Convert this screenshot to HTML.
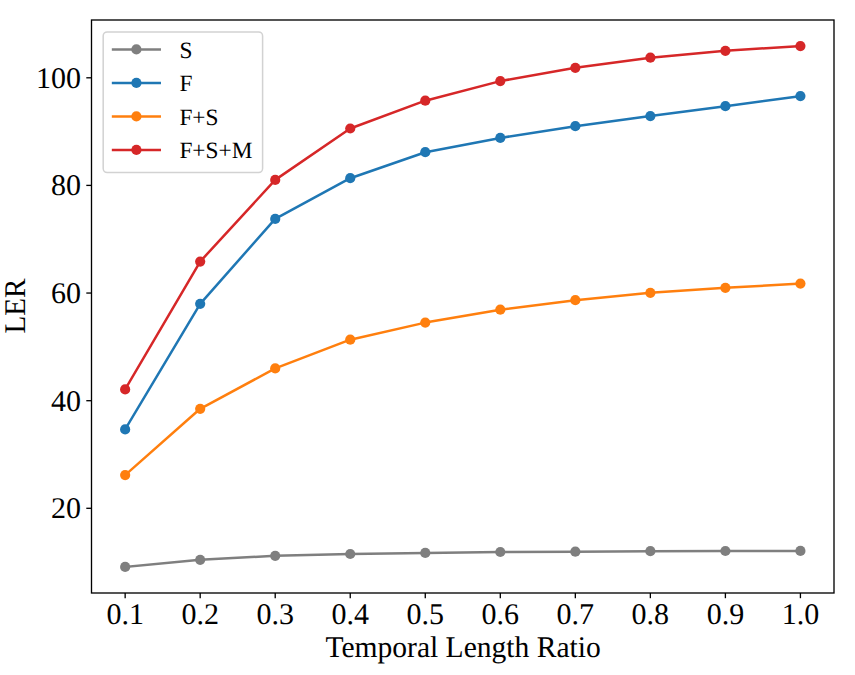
<!DOCTYPE html>
<html><head><meta charset="utf-8"><style>
html,body{margin:0;padding:0;background:#fff;width:855px;height:675px;overflow:hidden;}
svg{display:block;}
text{font-family:"Liberation Serif",serif;fill:#000;text-rendering:geometricPrecision;}
</style></head><body>
<svg width="855" height="675" viewBox="0 0 855 675">
<rect x="0" y="0" width="855" height="675" fill="#fff"/>
<polyline points="125.15,566.90 200.18,559.80 275.21,555.80 350.24,554.00 425.27,552.90 500.30,552.00 575.33,551.70 650.36,551.20 725.39,551.00 800.42,550.90" fill="none" stroke="#7f7f7f" stroke-width="2.5" stroke-linejoin="round" stroke-linecap="square"/>
<circle cx="125.15" cy="566.90" r="5.1" fill="#7f7f7f"/>
<circle cx="200.18" cy="559.80" r="5.1" fill="#7f7f7f"/>
<circle cx="275.21" cy="555.80" r="5.1" fill="#7f7f7f"/>
<circle cx="350.24" cy="554.00" r="5.1" fill="#7f7f7f"/>
<circle cx="425.27" cy="552.90" r="5.1" fill="#7f7f7f"/>
<circle cx="500.30" cy="552.00" r="5.1" fill="#7f7f7f"/>
<circle cx="575.33" cy="551.70" r="5.1" fill="#7f7f7f"/>
<circle cx="650.36" cy="551.20" r="5.1" fill="#7f7f7f"/>
<circle cx="725.39" cy="551.00" r="5.1" fill="#7f7f7f"/>
<circle cx="800.42" cy="550.90" r="5.1" fill="#7f7f7f"/>
<polyline points="125.15,429.40 200.18,303.80 275.21,218.90 350.24,178.20 425.27,152.20 500.30,137.90 575.33,126.20 650.36,116.10 725.39,106.20 800.42,96.10" fill="none" stroke="#1f77b4" stroke-width="2.5" stroke-linejoin="round" stroke-linecap="square"/>
<circle cx="125.15" cy="429.40" r="5.1" fill="#1f77b4"/>
<circle cx="200.18" cy="303.80" r="5.1" fill="#1f77b4"/>
<circle cx="275.21" cy="218.90" r="5.1" fill="#1f77b4"/>
<circle cx="350.24" cy="178.20" r="5.1" fill="#1f77b4"/>
<circle cx="425.27" cy="152.20" r="5.1" fill="#1f77b4"/>
<circle cx="500.30" cy="137.90" r="5.1" fill="#1f77b4"/>
<circle cx="575.33" cy="126.20" r="5.1" fill="#1f77b4"/>
<circle cx="650.36" cy="116.10" r="5.1" fill="#1f77b4"/>
<circle cx="725.39" cy="106.20" r="5.1" fill="#1f77b4"/>
<circle cx="800.42" cy="96.10" r="5.1" fill="#1f77b4"/>
<polyline points="125.15,475.10 200.18,408.80 275.21,368.40 350.24,339.70 425.27,322.60 500.30,309.70 575.33,300.20 650.36,292.80 725.39,287.80 800.42,283.60" fill="none" stroke="#ff7f0e" stroke-width="2.5" stroke-linejoin="round" stroke-linecap="square"/>
<circle cx="125.15" cy="475.10" r="5.1" fill="#ff7f0e"/>
<circle cx="200.18" cy="408.80" r="5.1" fill="#ff7f0e"/>
<circle cx="275.21" cy="368.40" r="5.1" fill="#ff7f0e"/>
<circle cx="350.24" cy="339.70" r="5.1" fill="#ff7f0e"/>
<circle cx="425.27" cy="322.60" r="5.1" fill="#ff7f0e"/>
<circle cx="500.30" cy="309.70" r="5.1" fill="#ff7f0e"/>
<circle cx="575.33" cy="300.20" r="5.1" fill="#ff7f0e"/>
<circle cx="650.36" cy="292.80" r="5.1" fill="#ff7f0e"/>
<circle cx="725.39" cy="287.80" r="5.1" fill="#ff7f0e"/>
<circle cx="800.42" cy="283.60" r="5.1" fill="#ff7f0e"/>
<polyline points="125.15,389.40 200.18,261.55 275.21,179.90 350.24,128.50 425.27,100.70 500.30,81.10 575.33,67.80 650.36,57.70 725.39,50.80 800.42,46.07" fill="none" stroke="#d62728" stroke-width="2.5" stroke-linejoin="round" stroke-linecap="square"/>
<circle cx="125.15" cy="389.40" r="5.1" fill="#d62728"/>
<circle cx="200.18" cy="261.55" r="5.1" fill="#d62728"/>
<circle cx="275.21" cy="179.90" r="5.1" fill="#d62728"/>
<circle cx="350.24" cy="128.50" r="5.1" fill="#d62728"/>
<circle cx="425.27" cy="100.70" r="5.1" fill="#d62728"/>
<circle cx="500.30" cy="81.10" r="5.1" fill="#d62728"/>
<circle cx="575.33" cy="67.80" r="5.1" fill="#d62728"/>
<circle cx="650.36" cy="57.70" r="5.1" fill="#d62728"/>
<circle cx="725.39" cy="50.80" r="5.1" fill="#d62728"/>
<circle cx="800.42" cy="46.07" r="5.1" fill="#d62728"/>
<rect x="91.5" y="20.0" width="742.50" height="573.00" fill="none" stroke="#000" stroke-width="1.33"/>
<line x1="125.15" y1="593.0" x2="125.15" y2="598.20" stroke="#000" stroke-width="1.33"/>
<text x="125.15" y="623.6" font-size="30" text-anchor="middle">0.1</text>
<line x1="200.18" y1="593.0" x2="200.18" y2="598.20" stroke="#000" stroke-width="1.33"/>
<text x="200.18" y="623.6" font-size="30" text-anchor="middle">0.2</text>
<line x1="275.21" y1="593.0" x2="275.21" y2="598.20" stroke="#000" stroke-width="1.33"/>
<text x="275.21" y="623.6" font-size="30" text-anchor="middle">0.3</text>
<line x1="350.24" y1="593.0" x2="350.24" y2="598.20" stroke="#000" stroke-width="1.33"/>
<text x="350.24" y="623.6" font-size="30" text-anchor="middle">0.4</text>
<line x1="425.27" y1="593.0" x2="425.27" y2="598.20" stroke="#000" stroke-width="1.33"/>
<text x="425.27" y="623.6" font-size="30" text-anchor="middle">0.5</text>
<line x1="500.30" y1="593.0" x2="500.30" y2="598.20" stroke="#000" stroke-width="1.33"/>
<text x="500.30" y="623.6" font-size="30" text-anchor="middle">0.6</text>
<line x1="575.33" y1="593.0" x2="575.33" y2="598.20" stroke="#000" stroke-width="1.33"/>
<text x="575.33" y="623.6" font-size="30" text-anchor="middle">0.7</text>
<line x1="650.36" y1="593.0" x2="650.36" y2="598.20" stroke="#000" stroke-width="1.33"/>
<text x="650.36" y="623.6" font-size="30" text-anchor="middle">0.8</text>
<line x1="725.39" y1="593.0" x2="725.39" y2="598.20" stroke="#000" stroke-width="1.33"/>
<text x="725.39" y="623.6" font-size="30" text-anchor="middle">0.9</text>
<line x1="800.42" y1="593.0" x2="800.42" y2="598.20" stroke="#000" stroke-width="1.33"/>
<text x="800.42" y="623.6" font-size="30" text-anchor="middle">1.0</text>
<line x1="86.30" y1="508.3" x2="91.5" y2="508.3" stroke="#000" stroke-width="1.33"/>
<text x="81.0" y="518.10" font-size="30" text-anchor="end">20</text>
<line x1="86.30" y1="400.7" x2="91.5" y2="400.7" stroke="#000" stroke-width="1.33"/>
<text x="81.0" y="410.50" font-size="30" text-anchor="end">40</text>
<line x1="86.30" y1="293.05" x2="91.5" y2="293.05" stroke="#000" stroke-width="1.33"/>
<text x="81.0" y="302.85" font-size="30" text-anchor="end">60</text>
<line x1="86.30" y1="185.4" x2="91.5" y2="185.4" stroke="#000" stroke-width="1.33"/>
<text x="81.0" y="195.20" font-size="30" text-anchor="end">80</text>
<line x1="86.30" y1="77.8" x2="91.5" y2="77.8" stroke="#000" stroke-width="1.33"/>
<text x="81.0" y="87.60" font-size="30" text-anchor="end">100</text>
<text x="463.1" y="656.8" font-size="30" text-anchor="middle" textLength="275.4" lengthAdjust="spacingAndGlyphs">Temporal Length Ratio</text>
<text transform="translate(24.9,306.0) rotate(-90)" font-size="30" text-anchor="middle" textLength="55.1" lengthAdjust="spacingAndGlyphs">LER</text>
<rect x="103.19" y="31.93" width="159.41" height="140.67" rx="4" ry="4" fill="#fff" fill-opacity="0.8" stroke="#d2d2d2" stroke-width="1.5"/>
<line x1="113.07" y1="49.45" x2="159.73" y2="49.45" stroke="#7f7f7f" stroke-width="2.5" stroke-linecap="square"/>
<circle cx="136.40" cy="49.45" r="5.1" fill="#7f7f7f"/>
<text x="179.4" y="57.95" font-size="23.33">S</text>
<line x1="113.07" y1="82.93" x2="159.73" y2="82.93" stroke="#1f77b4" stroke-width="2.5" stroke-linecap="square"/>
<circle cx="136.40" cy="82.93" r="5.1" fill="#1f77b4"/>
<text x="179.4" y="91.43" font-size="23.33">F</text>
<line x1="113.07" y1="116.41" x2="159.73" y2="116.41" stroke="#ff7f0e" stroke-width="2.5" stroke-linecap="square"/>
<circle cx="136.40" cy="116.41" r="5.1" fill="#ff7f0e"/>
<text x="179.4" y="124.91" font-size="23.33">F+S</text>
<line x1="113.07" y1="149.89" x2="159.73" y2="149.89" stroke="#d62728" stroke-width="2.5" stroke-linecap="square"/>
<circle cx="136.40" cy="149.89" r="5.1" fill="#d62728"/>
<text x="179.4" y="158.39" font-size="23.33">F+S+M</text>
</svg></body></html>
